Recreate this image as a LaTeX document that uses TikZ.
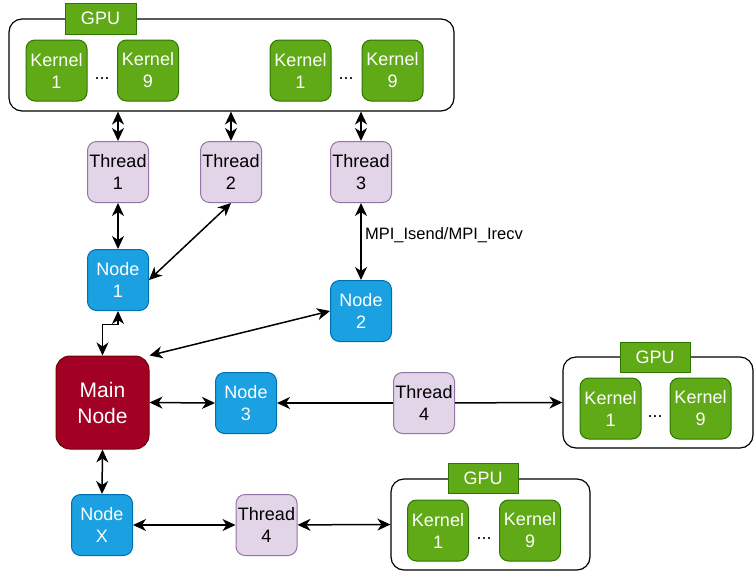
\documentclass[tikz,border=0pt]{standalone}
\usepackage{fontspec}
\setmainfont{Liberation Sans}
\usetikzlibrary{arrows.meta}
\definecolor{gpu_fill}{HTML}{60A917}
\definecolor{gpu_line}{HTML}{2D7600}
\definecolor{thread_fill}{HTML}{E1D5E7}
\definecolor{thread_line}{HTML}{9673A6}
\definecolor{node_fill}{HTML}{1BA1E2}
\definecolor{node_line}{HTML}{006EAF}
\definecolor{main_fill}{HTML}{A20025}
\definecolor{main_line}{HTML}{6F0000}

\begin{document}
\begin{tikzpicture}[x=1pt, y=-1pt,
  >={Stealth[length=13pt,width=12pt,inset=4pt]},
  box/.style={rounded corners=9pt, minimum width=61pt, minimum height=61pt,
    align=center, inner sep=0pt, line width=1pt,
    font=\fontsize{18}{22}\selectfont},
  kernel/.style={box, fill=gpu_fill, draw=gpu_line, text=white},
  thread/.style={box, fill=thread_fill, draw=thread_line},
  compnode/.style={box, fill=node_fill, draw=node_line, text=white},
  mainnode/.style={box, fill=main_fill, draw=main_line, text=white,
    minimum width=93pt, minimum height=93pt, rounded corners=14pt,
    font=\fontsize{21}{26}\selectfont},
  gpubox/.style={draw, fill=white, rounded corners=13pt, line width=1.2pt,
    inner sep=0pt},
  gpulabel/.style={fill=gpu_fill, draw=gpu_line, text=white, inner sep=0pt,
    minimum width=71pt, minimum height=31pt, font=\fontsize{18}{22}\selectfont},
  dots/.style={anchor=base, font=\fontsize{18}{22}\selectfont},
  link/.style={<->, line width=1.5pt}]
\useasboundingbox (0,0) rectangle (754,574);

% top GPU with two kernel groups
\node[gpubox, minimum width=445pt, minimum height=92pt] (gpuA) at (231.5,65) {};
\node[gpulabel] (gpuAlbl) at (100.5,18.5) {GPU};
\foreach \x/\k [count=\i] in {56.5/1, 148/9, 300.5/1, 392.5/9}
  \node[kernel] (kA\i) at (\x,70.5) {Kernel\\\k};
\node[dots] (dA1) at (102,79.5) {...};
\node[dots] (dA2) at (346,79.5) {...};

% right GPU
\node[gpubox, minimum width=190pt, minimum height=91pt] (gpuB) at (658,402.5) {};
\node[gpulabel, minimum width=70pt, minimum height=30pt] (gpuBlbl) at (655,357) {GPU};
\node[kernel] (kB1) at (610.5,408.5) {Kernel\\1};
\node[kernel] (kB2) at (700.5,408.5) {Kernel\\9};
\node[dots] (dB) at (655,417.5) {...};

% bottom GPU
\node[gpubox, minimum width=199pt, minimum height=91pt] (gpuC) at (490.5,524.5) {};
\node[gpulabel, minimum width=70pt, minimum height=30pt] (gpuClbl) at (483,478.5) {GPU};
\node[kernel] (kC1) at (438,530.5) {Kernel\\1};
\node[kernel] (kC2) at (530,530.5) {Kernel\\9};
\node[dots] (dC) at (484,539.5) {...};

% threads and nodes
\node[thread] (th1) at (118,172) {Thread\\1};
\node[thread] (th2) at (231,172) {Thread\\2};
\node[thread] (th3) at (361,172) {Thread\\3};
\node[thread] (th4r) at (424,403) {Thread\\4};
\node[thread] (th4b) at (266.5,525) {Thread\\4};
\node[compnode] (n1) at (118,280) {Node\\1};
\node[compnode] (n2) at (361,311) {Node\\2};
\node[mainnode] (main) at (102.5,402.5) {Main\\Node};
\node[compnode] (n3) at (246,403) {Node\\3};
\node[compnode] (nx) at (102,525) {Node\\X};

% connectors
\foreach \t in {th1, th2, th3}
  \draw[link] (gpuA.south -| \t) -- (\t);
\draw[link] (th1) -- (n1);
\draw[link] (th2.south) -- (n1.east);
\draw[link] (th3) -- (n2)
  node[pos=0.42, right, font=\fontsize{16.5}{20}\selectfont] {MPI\_Isend/MPI\_Irecv};
\draw[link] (n2.west) -- (main.north east);
\draw[link] (main.north) -- ++(0,-31) -| (n1.south);
\draw[link] (main.east) -- (n3.west);
\draw[link] (main.south) -- (nx.north);
\draw[->, line width=1.5pt] (th4r) -- (n3);
\draw[->, line width=1.5pt] (th4r) -- (gpuB.west);
\draw[link] (nx) -- (th4b);
\draw[link] (th4b) -- (gpuC.west);
\end{tikzpicture}
\end{document}
